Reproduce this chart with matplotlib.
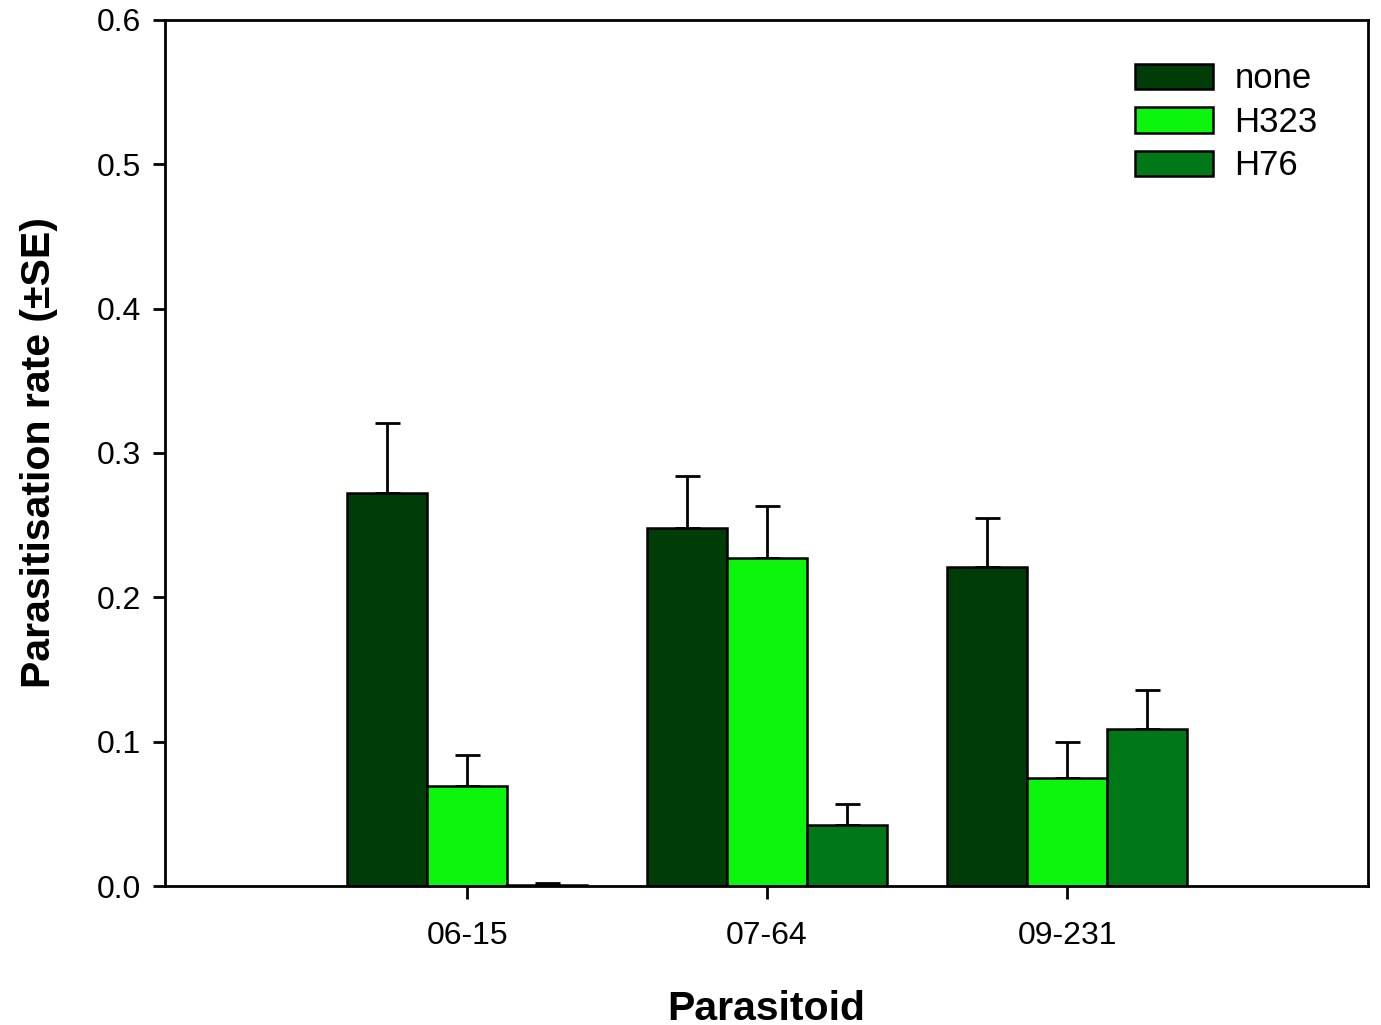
import matplotlib
matplotlib.use("Agg")
import matplotlib.pyplot as plt
import numpy as np

plt.rcParams['font.family'] = ['Liberation Sans', 'DejaVu Sans']

categories = ["06-15", "07-64", "09-231"]
series_names = ["none", "H323", "H76"]
none_vals = [0.272, 0.248, 0.221]
none_err = [0.049, 0.036, 0.034]
h323_vals = [0.069, 0.227, 0.075]
h323_err = [0.022, 0.036, 0.025]
h76_vals = [0.001, 0.042, 0.109]
h76_err = [0.001, 0.015, 0.027]
colors = ["#003c08", "#0cf50c", "#007818"]

values = [none_vals, h323_vals, h76_vals]
errors = [none_err, h323_err, h76_err]

fig = plt.figure(figsize=(13.81, 10.25), dpi=100)
ax = fig.add_axes([0.1195, 0.1356, 0.8711, 0.8449])

x = np.arange(len(categories))
w = 0.267
for i, (name, v, e, c) in enumerate(zip(series_names, values, errors, colors)):
    pos = x + (i - 1) * w
    ax.bar(pos, v, width=w, color=c, edgecolor="black", linewidth=1.8, label=name, zorder=2)
    ax.errorbar(pos, v, yerr=[np.zeros(len(v)), e], fmt="none", ecolor="black",
                elinewidth=2, capsize=9, capthick=2, zorder=1)

ax.set_xlim(-1.007, 3.003)
ax.set_ylim(0, 0.6)
ax.set_xticks(x)
ax.set_xticklabels(categories)
ax.set_yticks([0.0, 0.1, 0.2, 0.3, 0.4, 0.5, 0.6])
ax.set_yticklabels(["0.0", "0.1", "0.2", "0.3", "0.4", "0.5", "0.6"])
ax.tick_params(axis="both", direction="out", length=9, width=2, labelsize=23, pad=8)
ax.tick_params(axis="x", pad=16)
for s in ax.spines.values():
    s.set_linewidth(2)

ax.set_xlabel("Parasitoid", fontsize=29.5, fontweight="bold", labelpad=28)
ax.set_ylabel("Parasitisation rate (±SE)", fontsize=29.5, fontweight="bold", labelpad=28)

leg = ax.legend(loc="upper right", frameon=False, fontsize=25, handlelength=2.25,
                handleheight=0.75, labelspacing=0.3, handletextpad=0.6,
                bbox_to_anchor=(0.984, 0.987))

fig.savefig("out.png", dpi=100)
